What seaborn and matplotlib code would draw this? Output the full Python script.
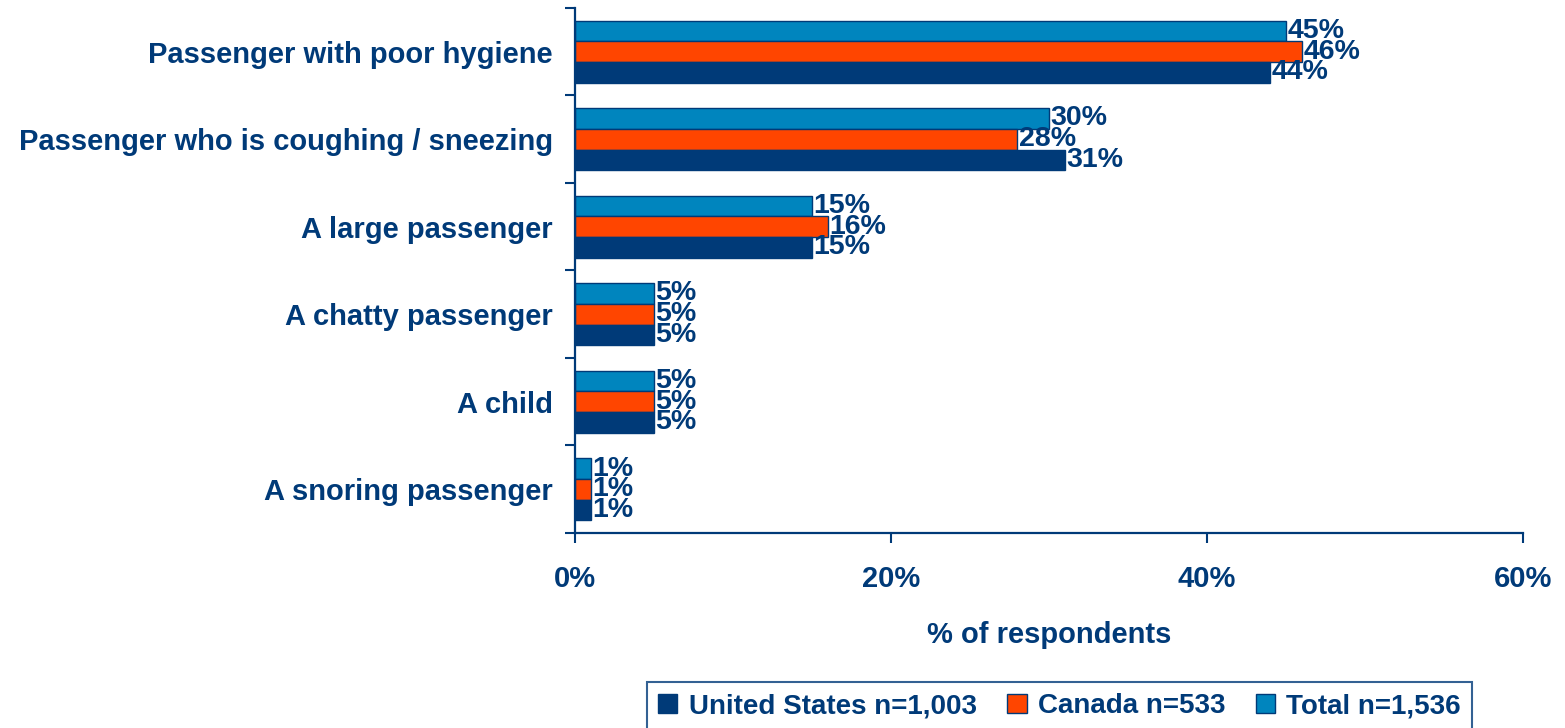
import matplotlib

matplotlib.use("Agg")
import matplotlib.pyplot as plt
from matplotlib.patches import Patch
import pandas as pd
import seaborn as sns

# datos
categorias = [
    "Passenger with poor hygiene",
    "Passenger who is coughing / sneezing",
    "A large passenger",
    "A chatty passenger",
    "A child",
    "A snoring passenger",
]
series = ["Total n=1,536", "Canada n=533", "United States n=1,003"]
total = [45, 30, 15, 5, 5, 1]
canada = [46, 28, 16, 5, 5, 1]
estados_unidos = [44, 31, 15, 5, 5, 1]
xticks = [0, 20, 40, 60]

AZUL = "#003A78"
colores = {"Total n=1,536": "#0085BE", "Canada n=533": "#FF4500", "United States n=1,003": "#003A78"}

df = pd.DataFrame({
    "categoria": categorias * 3,
    "serie": [series[0]] * 6 + [series[1]] * 6 + [series[2]] * 6,
    "valor": total + canada + estados_unidos,
})

sns.set_theme(style="white")
plt.rcParams["font.family"] = ["Liberation Sans", "DejaVu Sans"]
plt.rcParams["font.weight"] = "bold"

fig = plt.figure(figsize=(15.65, 7.28), dpi=100)
ax = fig.add_axes([0.3674, 0.2679, 0.6058, 0.7212])

sns.barplot(
    data=df, y="categoria", x="valor", hue="serie", order=categorias,
    hue_order=series, palette=colores, orient="h", width=0.71, saturation=1,
    edgecolor=AZUL, linewidth=1, legend=False, ax=ax,
)

for cont in ax.containers:
    ax.bar_label(cont, fmt="%d%%", padding=1, color=AZUL, fontsize=20.5,
                 fontweight="bold")

ax.set_xlim(0, 60)
ax.set_ylim(5.5, -0.5)
ax.set_xticks(xticks)
ax.set_xticklabels([f"{v}%" for v in xticks])
ax.set_yticks(range(len(categorias)))
ax.set_yticklabels(categorias)
ax.set_yticks([i - 0.5 for i in range(len(categorias) + 1)], minor=True)
ax.tick_params(axis="y", which="major", length=0, pad=16, labelsize=21,
               labelcolor=AZUL)
ax.tick_params(axis="y", which="minor", left=True, length=7, width=1.5,
               color=AZUL)
ax.tick_params(axis="x", bottom=True, length=7, width=1.5, color=AZUL, pad=16,
               labelsize=21, labelcolor=AZUL)
ax.set_ylabel("")
ax.set_xlabel("% of respondents", fontsize=21, fontweight="bold", color=AZUL,
              labelpad=20)

sns.despine(ax=ax)
for s in ["left", "bottom"]:
    ax.spines[s].set_color(AZUL)
    ax.spines[s].set_linewidth(1.6)

handles = [Patch(facecolor=colores[s], edgecolor=AZUL) for s in series[::-1]]
leg = fig.legend(
    handles, series[::-1], loc="upper center", bbox_to_anchor=(0.677, 0.063),
    ncol=3, frameon=True, fancybox=False, edgecolor=AZUL, fontsize=20,
    handlelength=0.7, handleheight=0.7, handletextpad=0.4, columnspacing=1.1,
    borderpad=0.4, borderaxespad=0,
)
leg.get_frame().set_linewidth(1.5)
for t in leg.get_texts():
    t.set_color(AZUL)
    t.set_fontweight("bold")

fig.savefig("out.png", dpi=100)
